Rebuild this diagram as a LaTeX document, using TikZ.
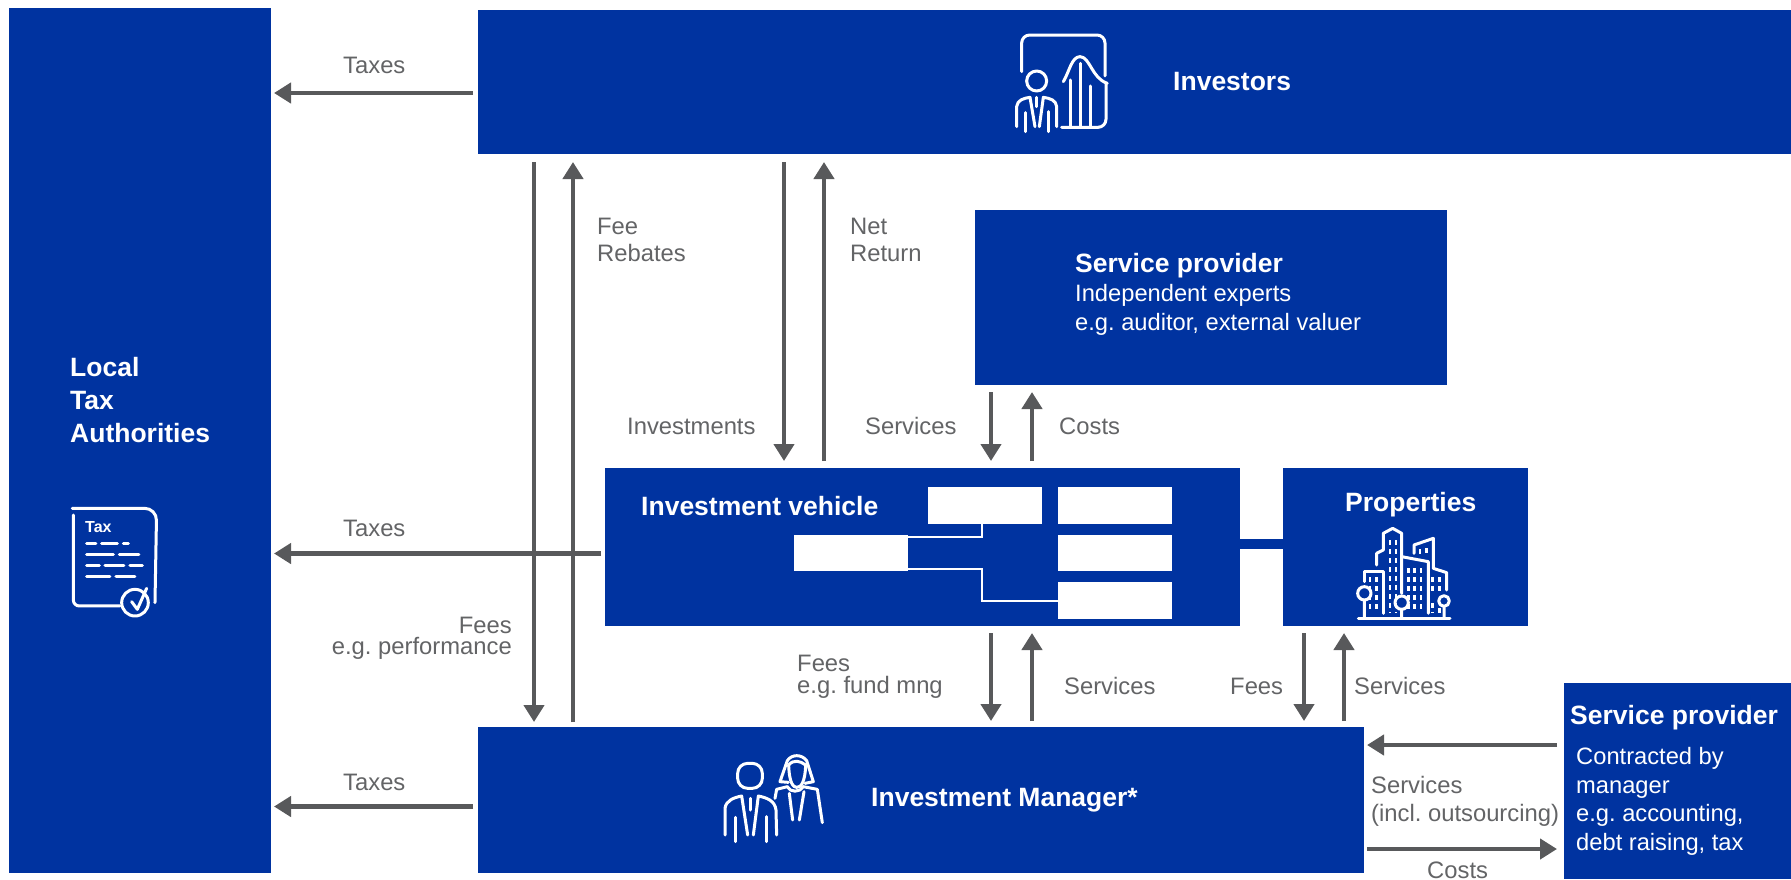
\documentclass[tikz,border=0pt]{standalone}
\usepackage{fontspec}
\setmainfont{Liberation Sans}
\usetikzlibrary{arrows.meta}
\definecolor{dbblue}{HTML}{0033A0}
\definecolor{arrgrey}{HTML}{58595B}
\definecolor{txtgrey}{HTML}{636466}
\tikzset{
  bluebox/.style={fill=dbblue,draw=none,inner sep=0pt,outer sep=0pt},
  whitebox/.style={fill=white,draw=none,inner sep=0pt,outer sep=0pt},
  flow/.style={draw=arrgrey,line width=4.5pt,-{Triangle[length=17pt,width=20pt]}},
  lbl/.style={anchor=base west,inner sep=0pt,text=txtgrey,align=left,font=\fontsize{23.8}{27}\selectfont},
  lblr/.style={anchor=base east,inner sep=0pt,text=txtgrey,align=right,font=\fontsize{23.8}{21}\selectfont},
  ttl/.style={anchor=base west,inner sep=0pt,text=white,align=left,font=\fontsize{26.5}{33}\selectfont\bfseries},
  bodytxt/.style={anchor=base west,inner sep=0pt,text=white,align=left,font=\fontsize{23.7}{28.5}\selectfont},
  icon/.style={draw=white,line width=3pt,line cap=round,line join=round,fill=none},
  wline/.style={draw=white,line width=2pt},
}
\begin{document}
\frenchspacing
\begin{tikzpicture}[x=1pt,y=-1pt]
\useasboundingbox (0,0) rectangle (1791,879);
% boxes
\node[bluebox,minimum width=262pt,minimum height=865pt] (tax) at (140,440.5) {};
\node[bluebox,minimum width=1313pt,minimum height=144pt] (inv) at (1134.5,82) {};
\node[bluebox,minimum width=472pt,minimum height=175pt] (sp1) at (1211,297.5) {};
\node[bluebox,minimum width=635pt,minimum height=158pt] (veh) at (922.5,547) {};
\node[bluebox,minimum width=245pt,minimum height=158pt] (prop) at (1405.5,547) {};
\node[bluebox,minimum width=886pt,minimum height=146pt] (mgr) at (921,800) {};
\node[bluebox,minimum width=227pt,minimum height=196pt] (sp2) at (1677.5,781) {};
% link vehicle - properties
\coordinate (lk) at (1260,544);
\draw[dbblue,line width=10pt] (veh.east |- lk) -- (prop.west |- lk);
% structure inside vehicle
\node[whitebox,minimum width=114pt,minimum height=37pt] (r1) at (985,505.5) {};
\node[whitebox,minimum width=114pt,minimum height=37pt] (r2) at (1115,505.5) {};
\node[whitebox,minimum width=114pt,minimum height=36pt] (r3) at (1115,553) {};
\node[whitebox,minimum width=114pt,minimum height=37pt] (r4) at (1115,600.5) {};
\node[whitebox,minimum width=114pt,minimum height=36pt] (rl) at (851,553) {};
\draw[wline] ([xshift=-3pt]r1.south) |- ([yshift=-2pt]rl.north east);
\draw[wline] ([yshift=2pt]rl.south east) -- ++(74,0) |- (r4.west);
% column/row helpers
\coordinate (xa) at (534,0);
\coordinate (xb) at (573,0);
\coordinate (xc) at (784,0);
\coordinate (xd) at (824,0);
\coordinate (xe) at (991,0);
\coordinate (xf) at (1032,0);
\coordinate (xg) at (1304,0);
\coordinate (xh) at (1344,0);
\coordinate (ya) at (0,93);
\coordinate (yb) at (0,553.5);
\coordinate (yc) at (0,806.5);
\coordinate (yd) at (0,745);
\coordinate (ye) at (0,849);
% flows
\draw[flow,shorten <=5pt,shorten >=3pt] (inv.west |- ya) -- (tax.east |- ya);
\draw[flow,shorten <=4pt,shorten >=3pt] (veh.west |- yb) -- (tax.east |- yb);
\draw[flow,shorten <=5pt,shorten >=3pt] (mgr.west |- yc) -- (tax.east |- yc);
\draw[flow,shorten <=8pt,shorten >=5pt] (xa |- inv.south) -- (xa |- mgr.north);
\draw[flow,shorten <=5pt,shorten >=8pt] (xb |- mgr.north) -- (xb |- inv.south);
\draw[flow,shorten <=8pt,shorten >=7pt] (xc |- inv.south) -- (xc |- veh.north);
\draw[flow,shorten <=7pt,shorten >=8pt] (xd |- veh.north) -- (xd |- inv.south);
\draw[flow,shorten <=7pt,shorten >=7pt] (xe |- sp1.south) -- (xe |- veh.north);
\draw[flow,shorten <=7pt,shorten >=7pt] (xf |- veh.north) -- (xf |- sp1.south);
\draw[flow,shorten <=7pt,shorten >=6pt] (xe |- veh.south) -- (xe |- mgr.north);
\draw[flow,shorten <=6pt,shorten >=7pt] (xf |- mgr.north) -- (xf |- veh.south);
\draw[flow,shorten <=7pt,shorten >=6pt] (xg |- prop.south) -- (xg |- mgr.north);
\draw[flow,shorten <=6pt,shorten >=7pt] (xh |- mgr.north) -- (xh |- prop.south);
\draw[flow,shorten <=7pt,shorten >=3pt] (sp2.west |- yd) -- (mgr.east |- yd);
\draw[flow,shorten <=3pt,shorten >=7pt] (mgr.east |- ye) -- (sp2.west |- ye);
% grey labels
\node[lbl] (t1) at (343,73) {Taxes};
\node[lbl] (t2) at (343,536) {Taxes};
\node[lbl] (t3) at (343,790) {Taxes};
\node[lbl] (l1) at (597,261) {Fee\\Rebates};
\node[lbl] (l2) at (850,261) {Net\\Return};
\node[lbl] (l3) at (627,434) {Investments};
\node[lbl] (l4) at (865,434) {Services};
\node[lbl] (l5) at (1059,434) {Costs};
\node[lblr] (l6) at (512,654) {Fees\\e.g. performance};
\node[lbl,font=\fontsize{23.8}{22}\selectfont] (l7) at (797,693) {Fees\\e.g. fund mng};
\node[lbl] (l8) at (1064,694) {Services};
\node[lbl] (l9) at (1230,694) {Fees};
\node[lbl] (l10) at (1354,694) {Services};
\node[lbl,font=\fontsize{23.8}{28}\selectfont] (l11) at (1371,821) {Services\\(incl. outsourcing)};
\node[lbl] (l12) at (1427,878) {Costs};
% white text
\node[ttl] (n1) at (1173,90) {Investors};
\node[ttl] (n2) at (70,442) {Local\\Tax\\Authorities};
\node[ttl] (n3) at (1075,272) {Service provider};
\node[bodytxt] (n4) at (1075,330) {Independent experts\\e.g. auditor, external valuer};
\node[ttl] (n5) at (641,515) {Investment vehicle};
\node[ttl] (n6) at (1345,511) {Properties};
\node[ttl] (n7) at (871,806) {Investment Manager*};
\node[ttl] (n8) at (1570,724) {Service provider};
\node[bodytxt] (n9) at (1576,850) {Contracted by\\manager\\e.g. accounting,\\debt raising, tax};
% investors icon
\begin{scope}[shift={(980,0)},x=.3333pt,y=-.3333pt]
\draw[icon,rounded corners=8pt] (125,215) -- (125,105) -- (375,105) -- (375,228);
\draw[icon,rounded corners=8pt] (378,250) -- (378,382) -- (245,382);
\draw[icon] (250,245) .. controls (268,215) and (275,170) .. (300,170) .. controls (330,170) and (335,235) .. (382,250);
\draw[icon] (270,240) -- (270,380) (300,190) -- (300,380) (330,258) -- (330,380);
\draw[icon] (170,243) circle (30);
\draw[icon] (110,380) -- (110,320) .. controls (112,300) and (130,295) .. (150,292) -- (165,380);
\draw[icon] (230,380) -- (230,320) .. controls (228,300) and (210,295) .. (190,292) -- (178,380);
\draw[icon] (135,338) -- (135,395) (205,335) -- (205,395) (170,292) -- (170,320);
\end{scope}
% tax icon
\begin{scope}[shift={(40,480)},x=.3333pt,y=-.3333pt]
\draw[icon,rounded corners=12pt] (97,85) -- (350,85) -- (345,368);
\draw[icon,rounded corners=6pt] (100,105) -- (100,378) -- (240,378);
\draw[icon] (285,368) circle (40);
\draw[icon] (275,365) -- (292,388) -- (320,325);
\draw[icon] (140,190) -- (168,190) (185,190) -- (232,190) (250,190) -- (265,190);
\draw[icon] (140,223) -- (220,223) (238,223) -- (297,223);
\draw[icon] (140,257) -- (178,257) (195,257) -- (252,257) (270,257) -- (307,257);
\draw[icon] (140,289) -- (210,289) (228,289) -- (285,289);
\node[anchor=base west,inner sep=0pt,text=white,font=\fontsize{16}{16}\selectfont\bfseries] (taxw) at (135,158) {Tax};
\end{scope}
% properties icon
\begin{scope}[shift={(1320,490)},x=.3333pt,y=-.3333pt]
\draw[icon] (115,385) -- (390,385);
\draw[icon] (133,275) -- (133,245) -- (190,245) -- (190,370);
\draw[icon] (170,225) -- (170,190) -- (190,180) -- (190,130) -- (218,115) -- (245,130) -- (245,310);
\draw[icon] (245,200) -- (325,215) -- (325,370);
\draw[icon] (282,190) -- (282,165) -- (340,145) -- (340,235) -- (380,248) -- (380,300);
\draw[icon] (133,310) circle (20) (133,330) -- (133,385);
\draw[icon] (245,338) circle (20) (245,358) -- (245,385);
\draw[icon] (372,333) circle (16) (372,349) -- (372,385);
\begin{scope}[line width=2.4pt,draw=white,dash pattern=on 5pt off 4pt]
\foreach \cx/\ya/\yb in {210/150/370,228/150/370,265/235/370,283/235/370,303/235/370,150/262/370,170/262/370,338/262/315,358/262/315,300/178/195,320/175/195,338/340/370,358/355/370}
  \draw (\cx,\ya) -- (\cx,\yb);
\end{scope}
\end{scope}
% people icon
\begin{scope}[shift={(700,730)},x=.3333pt,y=-.3333pt]
\draw[icon,rounded corners=10pt] (113,100) rectangle (187,175);
\draw[icon] (75,315) -- (75,235) .. controls (78,212) and (100,203) .. (125,198) -- (143,315);
\draw[icon] (230,315) -- (228,240) .. controls (225,212) and (200,203) .. (175,198) -- (160,315);
\draw[icon] (105,262) -- (105,335) (198,260) -- (198,335) (150,205) -- (150,240);
\draw[icon] (265,157) -- (240,155) -- (262,92) .. controls (275,72) and (305,72) .. (320,92) -- (340,155) -- (315,160);
\draw[icon] (266,105) .. controls (268,160) and (280,172) .. (290,172) .. controls (302,172) and (315,160) .. (317,105);
\draw[icon] (266,105) .. controls (280,88) and (300,92) .. (317,105);
\draw[icon] (225,205) -- (230,178) -- (262,170) .. controls (270,188) and (300,188) .. (310,170) -- (352,178) -- (367,278);
\draw[icon] (268,190) -- (278,270) (312,185) -- (298,270);
\end{scope}
\end{tikzpicture}
\end{document}
